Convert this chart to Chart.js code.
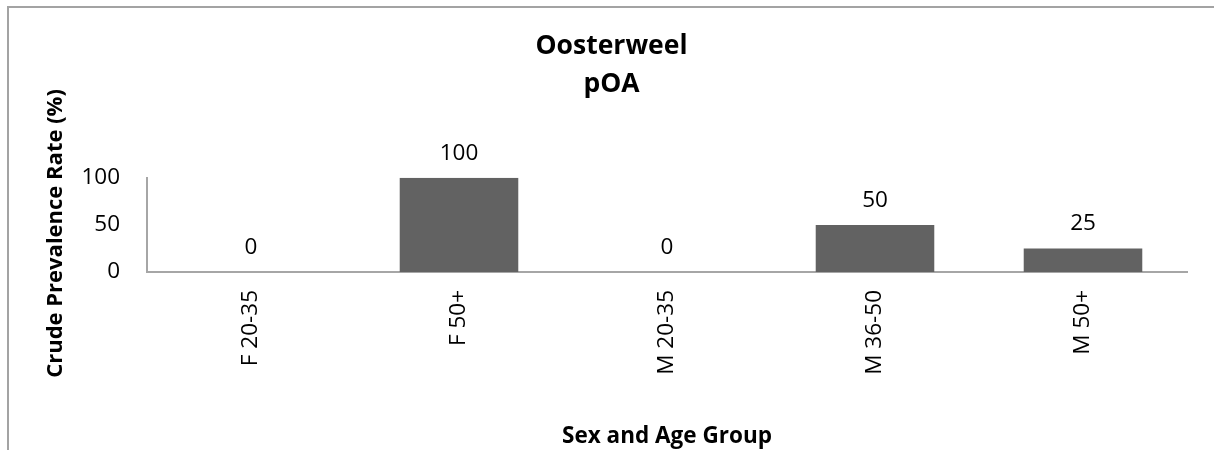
<!DOCTYPE html>
<html>
<head>
<meta charset="utf-8">
<script src="https://cdn.jsdelivr.net/npm/chart.js@4/dist/chart.umd.min.js"></script>
<style>
  html, body { margin: 0; padding: 0; background: #ffffff; overflow: hidden; }
  #wrap { position: relative; width: 1214px; height: 450px; }
  #frame {
    position: absolute; left: 7px; top: 6px; width: 1300px; height: 600px;
    border-left: 2px solid #a3a3a3; border-top: 2px solid #a3a3a3;
  }
  #chart { position: absolute; left: 0; top: 0; }
</style>
</head>
<body>
<div id="wrap">
  <div id="frame"></div>
  <canvas id="chart" width="1214" height="450"></canvas>
</div>
<script>
// Crude prevalence of pOA by sex and age group, Oosterweel
const categories = ['F 20-35', 'F 50+', 'M 20-35', 'M 36-50', 'M 50+'];
const prevalence = [0, 100, 0, 50, 25];
const yTickValues = [0, 50, 100];
const chartTitle = ['Oosterweel', 'pOA'];
const xTitle = 'Sex and Age Group';
const yTitle = 'Crude Prevalence Rate (%)';

const FONT = "'Open Sans', 'Liberation Sans', sans-serif";

// value labels above each bar, taken from the dataset itself
const valueLabels = {
  id: 'valueLabels',
  afterDatasetsDraw(chart) {
    const ctx = chart.ctx;
    const meta = chart.getDatasetMeta(0);
    const values = chart.data.datasets[0].data;
    ctx.save();
    ctx.font = '22.5px ' + FONT;
    ctx.fillStyle = '#000000';
    ctx.textAlign = 'center';
    ctx.textBaseline = 'alphabetic';
    meta.data.forEach((bar, i) => {
      ctx.fillText(String(values[i]), bar.x, bar.y - 18);
    });
    ctx.restore();
  }
};

new Chart(document.getElementById('chart'), {
  type: 'bar',
  data: {
    labels: categories,
    datasets: [{
      data: prevalence,
      backgroundColor: '#626262',
      borderWidth: 0,
      categoryPercentage: 1,
      barPercentage: 0.57
    }]
  },
  options: {
    responsive: false,
    animation: false,
    devicePixelRatio: 1,
    layout: { padding: { left: 36, right: 27, top: 0, bottom: 0 } },
    plugins: {
      legend: { display: false },
      tooltip: { enabled: false },
      title: {
        display: true,
        text: chartTitle,
        color: '#000000',
        font: { family: FONT, size: 26.5, weight: 'bold', lineHeight: 1.43 },
        padding: { top: 28, bottom: 74 }
      }
    },
    scales: {
      x: {
        grid: { display: false, drawTicks: false },
        border: { display: true, color: '#a6a6a6', width: 2 },
        ticks: {
          color: '#000000',
          font: { family: FONT, size: 22.5 },
          minRotation: 90,
          maxRotation: 90,
          autoSkip: false,
          padding: 18
        },
        title: {
          display: true,
          text: xTitle,
          color: '#000000',
          font: { family: FONT, size: 22.5, weight: 'bold', lineHeight: 1.2 },
          padding: { top: 2, bottom: 0 }
        },
        afterFit(scale) { scale.height = 178; }
      },
      y: {
        min: 0,
        max: 100,
        grid: { display: false, drawTicks: false },
        border: { display: true, color: '#a6a6a6', width: 2 },
        ticks: {
          color: '#000000',
          font: { family: FONT, size: 22.5 },
          padding: 27
        },
        afterBuildTicks(scale) {
          scale.ticks = yTickValues.map(v => ({ value: v }));
        },
        title: {
          display: true,
          text: yTitle + '   ',
          color: '#000000',
          font: { family: FONT, size: 22, weight: 'bold', lineHeight: 1.2 },
          padding: { top: 7, bottom: 0 }
        },
        afterFit(scale) { scale.width = 111; }
      }
    }
  },
  plugins: [valueLabels]
});
</script>
</body>
</html>
